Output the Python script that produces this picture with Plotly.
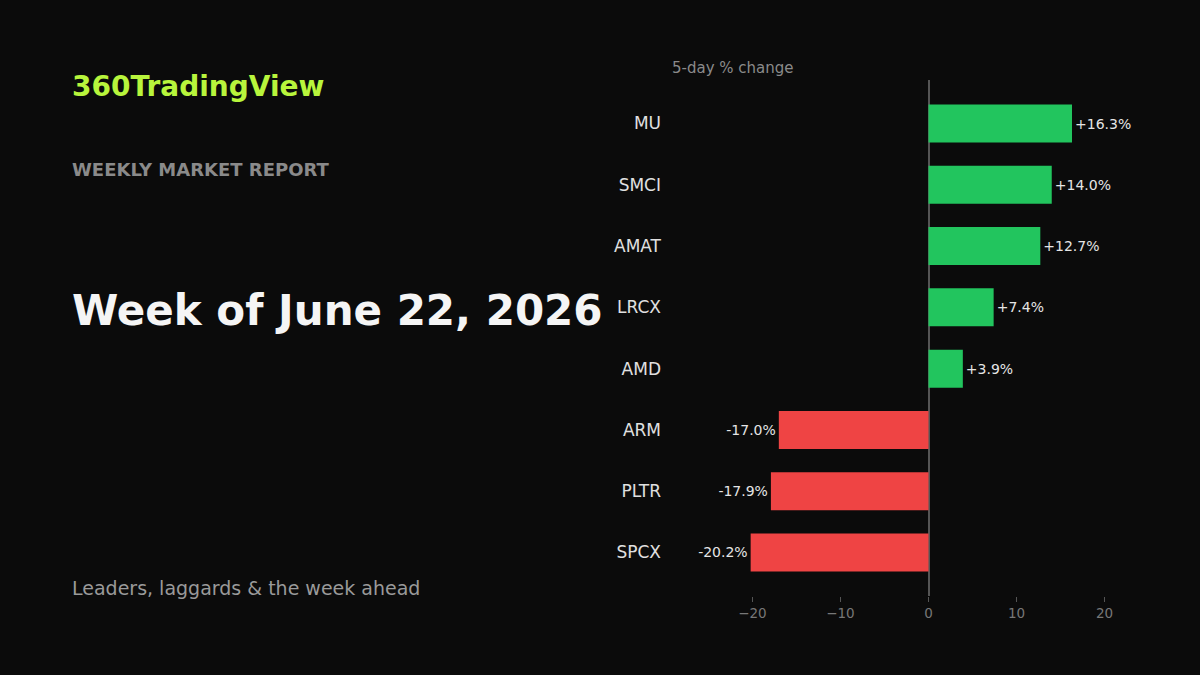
import plotly.graph_objects as go

tickers = ["MU", "SMCI", "AMAT", "LRCX", "AMD", "ARM", "PLTR", "SPCX"]
changes = [16.3, 14.0, 12.7, 7.4, 3.9, -17.0, -17.9, -20.2]
x_ticks = [-20, -10, 0, 10, 20]

W, H = 1200, 675
BG = "#0b0b0b"
colors = ["#22c55e" if v >= 0 else "#ef4444" for v in changes]
labels = [f"+{v:.1f}%" if v >= 0 else f"{v:.1f}%" for v in changes]

fig = go.Figure(go.Bar(
    x=changes, y=tickers, orientation="h",
    marker=dict(color=colors, line=dict(width=0)),
    width=0.62,
    text=labels, textposition="outside", cliponaxis=False,
    textfont=dict(color="#e5e5e5", size=14, family="DejaVu Sans"),
    hoverinfo="skip",
))

fig.update_layout(
    width=W, height=H,
    paper_bgcolor=BG, plot_bgcolor=BG,
    margin=dict(l=0, r=0, t=0, b=0),
    showlegend=False,
    font=dict(family="DejaVu Sans"),
    xaxis=dict(
        domain=[704 / W, 1153 / W],
        range=[-25.5, 25.5],
        tickvals=x_ticks,
        showgrid=False,
        zeroline=True, zerolinecolor="#555555", zerolinewidth=1.5,
        ticks="outside", ticklen=5, tickcolor="#555555",
        tickfont=dict(color="#777777", size=13.5),
        showline=False,
    ),
    yaxis=dict(
        domain=[(H - 596) / H, (H - 80) / H],
        range=[7.71, -0.71],
        showgrid=False, zeroline=False, showline=False,
        tickfont=dict(color="#e0e0e0", size=17),
        ticklabelstandoff=42,
        ticks="",
    ),
)

def ann(text, x, y, size, color, bold=False, xanchor="left"):
    fig.add_annotation(
        text=f"<b>{text}</b>" if bold else text,
        x=x / W, y=1 - y / H, xref="paper", yref="paper",
        xanchor=xanchor, yanchor="middle", showarrow=False,
        font=dict(size=size, color=color, family="DejaVu Sans"),
    )

ann("360TradingView", 70, 86, 28, "#b8f53c", bold=True)
ann("WEEKLY MARKET REPORT", 70, 170, 18, "#8a8a8a", bold=True)
ann("Week of June 22, 2026", 70, 311, 42, "#f5f5f5", bold=True)
ann("Leaders, laggards &amp; the week ahead", 70, 588, 19, "#9a9a9a")
ann("5-day % change", 670, 68, 15, "#8a8a8a")

fig.write_html(
    "out.html",
    config={"displayModeBar": False},
    post_script="document.body.style.margin='0';document.body.style.background='#0b0b0b';",
)
